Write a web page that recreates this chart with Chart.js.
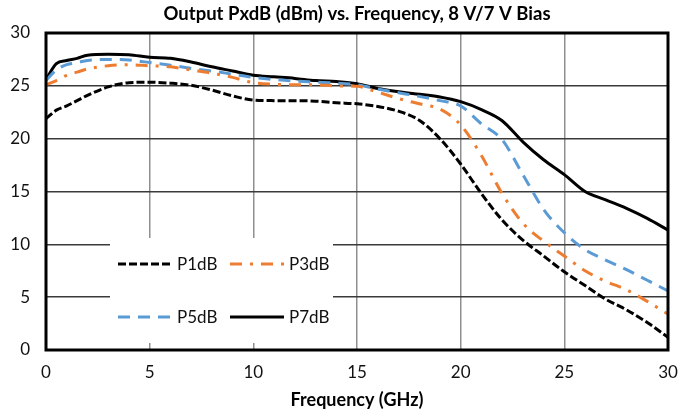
<!DOCTYPE html>
<html>
<head>
<meta charset="utf-8">
<script src="https://cdn.jsdelivr.net/npm/chart.js@4.4.0/dist/chart.umd.min.js"></script>
<style>
  html, body { margin: 0; padding: 0; background: #fff; }
</style>
</head>
<body>
<canvas id="myChart" width="682" height="416"></canvas>
<script>
'use strict';

// frequency points (GHz)
const freqs = [0, 0.5, 1, 1.5, 2, 3, 4, 5, 6, 7, 8, 9, 10, 11, 12, 13, 14, 15,
  16, 17, 18, 19, 20, 21, 22, 23, 24, 25, 26, 27, 28, 29, 30];

// output power (dBm)
const p1dB = [21.9, 22.7, 23.1, 23.6, 24.1, 24.9, 25.3, 25.35, 25.25, 25.05, 24.6, 24.05, 23.65,
  23.6, 23.6, 23.55, 23.4, 23.3, 23.05, 22.6, 21.75, 20.0, 17.6, 14.8, 12.3, 10.4, 8.9, 7.4,
  6.1, 4.8, 3.8, 2.6, 1.2];
const p3dB = [25.1, 25.5, 26.0, 26.3, 26.6, 26.9, 27.0, 26.9, 26.8, 26.5, 26.2, 25.8, 25.3,
  25.15, 25.1, 25.1, 25.0, 24.95, 24.4, 23.8, 23.3, 22.8, 21.3, 18.4, 14.8, 12.0, 10.3, 8.9,
  7.5, 6.5, 5.7, 4.6, 3.4];
const p5dB = [25.5, 26.5, 27.0, 27.2, 27.4, 27.5, 27.45, 27.2, 26.95, 26.65, 26.4, 26.1, 25.8,
  25.6, 25.45, 25.35, 25.25, 25.1, 24.7, 24.35, 24.0, 23.6, 23.1, 21.4, 19.9, 16.6, 13.3, 11.1,
  9.5, 8.5, 7.6, 6.6, 5.6];
const p7dB = [25.6, 27.1, 27.4, 27.6, 27.9, 28.0, 27.95, 27.7, 27.6, 27.25, 26.8, 26.4, 26.0,
  25.85, 25.7, 25.5, 25.4, 25.2, 24.75, 24.45, 24.2, 23.95, 23.5, 22.75, 21.7, 19.7, 18.0, 16.6,
  15.0, 14.2, 13.4, 12.45, 11.35];

const xTicks = [0, 5, 10, 15, 20, 25, 30];
const yTicks = [0, 5, 10, 15, 20, 25, 30];

const chartTitle = 'Output PxdB (dBm) vs. Frequency, 8 V/7 V Bias';
const FONT = 'Lato, "Open Sans", sans-serif';

function toPoints(vals) {
  return vals.map((v, i) => ({ x: freqs[i], y: v }));
}

const series = [
  { label: 'P1dB', data: p1dB, color: '#000000', dash: [8, 3] },
  { label: 'P3dB', data: p3dB, color: '#ED7D31', dash: [12, 8, 3, 8] },
  { label: 'P5dB', data: p5dB, color: '#5B9BD5', dash: [12, 8] },
  { label: 'P7dB', data: p7dB, color: '#000000', dash: [] }
];

// thick frame around the plot area
const framePlugin = {
  id: 'frame',
  afterDatasetsDraw(chart) {
    const a = chart.chartArea;
    const ctx = chart.ctx;
    ctx.save();
    ctx.strokeStyle = '#000';
    ctx.lineWidth = 3;
    ctx.strokeRect(a.left, a.top, a.right - a.left, a.bottom - a.top);
    ctx.restore();
  }
};

// title centred over the plot area (not the whole canvas)
const titlePlugin = {
  id: 'areaTitle',
  afterDraw(chart) {
    const a = chart.chartArea;
    const ctx = chart.ctx;
    ctx.save();
    ctx.font = 'bold 18.5px ' + FONT;
    ctx.fillStyle = '#000';
    ctx.textAlign = 'center';
    ctx.textBaseline = 'middle';
    ctx.fillText(chartTitle, (a.left + a.right) / 2, 14);
    ctx.restore();
  }
};

// legend box sitting inside the plot, two columns
const legendPlugin = {
  id: 'boxLegend',
  afterDraw(chart) {
    const a = chart.chartArea;
    const ctx = chart.ctx;
    const bx = a.left + 64;
    const by = a.top + 205;
    ctx.save();
    ctx.fillStyle = '#fff';
    ctx.fillRect(bx, by, 223, 105);
    ctx.font = '17px ' + FONT;
    ctx.textBaseline = 'middle';
    series.forEach((s, i) => {
      let col = i % 2;
      let row = Math.floor(i / 2);
      let lx = bx + 8 + col * 112;
      let ly = by + 26 + row * 53;
      ctx.strokeStyle = s.color;
      ctx.lineWidth = 3;
      ctx.setLineDash(s.dash);
      ctx.beginPath();
      ctx.moveTo(lx, ly);
      ctx.lineTo(lx + 54, ly);
      ctx.stroke();
      ctx.setLineDash([]);
      ctx.fillStyle = '#111';
      ctx.fillText(s.label, lx + 59, ly + 1);
    });
    ctx.restore();
  }
};

new Chart(document.getElementById('myChart'), {
  type: 'line',
  data: {
    datasets: series.map(s => ({
      label: s.label,
      data: toPoints(s.data),
      borderColor: s.color,
      borderWidth: 3,
      borderDash: s.dash,
      pointRadius: 0,
      fill: false,
      cubicInterpolationMode: 'monotone'
    }))
  },
  options: {
    responsive: false,
    animation: false,
    layout: { padding: { left: 0, right: 14, top: 33, bottom: 0 } },
    plugins: {
      legend: { display: false },
      tooltip: { enabled: false },
      title: { display: false }
    },
    scales: {
      x: {
        type: 'linear',
        min: 0,
        max: 30,
        afterBuildTicks: scale => { scale.ticks = xTicks.map(v => ({ value: v })); },
        afterFit: scale => {
          scale.height = 66;
          scale.paddingRight = 0;
          scale.paddingLeft = 0;
        },
        grid: { color: '#8f8f8f', lineWidth: 1.5, drawTicks: false },
        border: { display: false },
        ticks: { color: '#111', padding: 12, font: { family: FONT, size: 17 }, maxRotation: 0 },
        title: {
          display: true,
          text: 'Frequency (GHz)',
          color: '#000',
          font: { family: FONT, size: 18, weight: 'bold' },
          padding: { top: 0, bottom: 5 }
        }
      },
      y: {
        min: 0,
        max: 30,
        afterBuildTicks: scale => { scale.ticks = yTicks.map(v => ({ value: v })); },
        afterFit: scale => { scale.width = 46; },
        grid: { color: '#3a3a3a', lineWidth: 1.5, drawTicks: false },
        border: { display: false },
        ticks: { color: '#111', padding: 16, font: { family: FONT, size: 17 } }
      }
    }
  },
  plugins: [framePlugin, legendPlugin, titlePlugin]
});
</script>
</body>
</html>
